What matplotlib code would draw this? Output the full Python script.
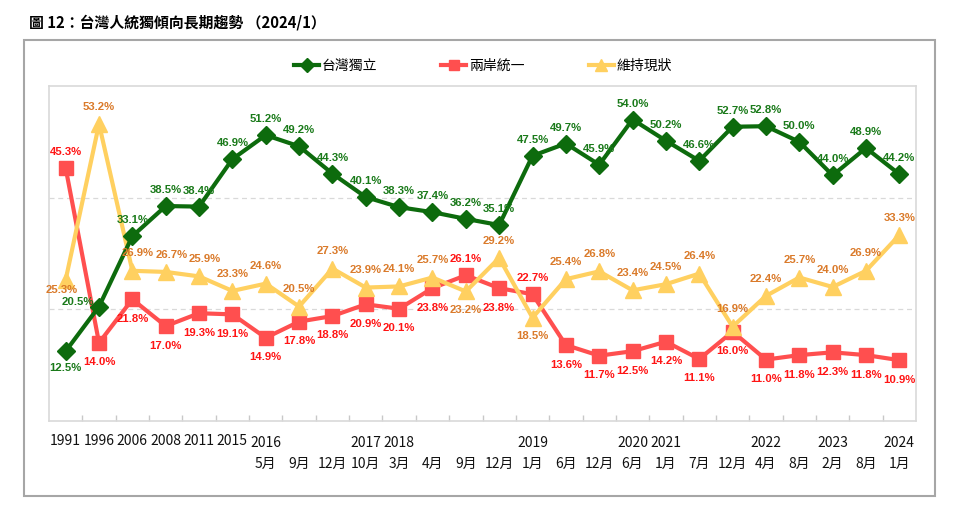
import matplotlib
matplotlib.use("Agg")
import matplotlib.pyplot as plt
from matplotlib.patches import Rectangle

# ---- data ----
years = ["1991", "1996", "2006", "2008", "2011", "2015",
         "2016", "2016", "2016", "2017", "2018", "2018", "2018", "2018",
         "2019", "2019", "2019", "2020", "2021", "2021", "2021",
         "2022", "2022", "2023", "2023", "2024"]
months = ["", "", "", "", "", "",
          "5月", "9月", "12月", "10月", "3月", "4月", "9月", "12月",
          "1月", "6月", "12月", "6月", "1月", "7月", "12月",
          "4月", "8月", "2月", "8月", "1月"]
independence = [12.5, 20.5, 33.1, 38.5, 38.4, 46.9, 51.2, 49.2, 44.3, 40.1,
                38.3, 37.4, 36.2, 35.1, 47.5, 49.7, 45.9, 54.0, 50.2, 46.6,
                52.7, 52.8, 50.0, 44.0, 48.9, 44.2]
unification = [45.3, 14.0, 21.8, 17.0, 19.3, 19.1, 14.9, 17.8, 18.8, 20.9,
               20.1, 23.8, 26.1, 23.8, 22.7, 13.6, 11.7, 12.5, 14.2, 11.1,
               16.0, 11.0, 11.8, 12.3, 11.8, 10.9]
status_quo = [25.3, 53.2, 26.9, 26.7, 25.9, 23.3, 24.6, 20.5, 27.3, 23.9,
              24.1, 25.7, 23.2, 29.2, 18.5, 25.4, 26.8, 23.4, 24.5, 26.4,
              16.9, 22.4, 25.7, 24.0, 26.9, 33.3]
series_names = ["台灣獨立", "兩岸統一", "維持現狀"]
title = "圖 12：台灣人統獨傾向長期趨勢 （2024/1）"

# label placements (style, not data)
green_pos = {0: "b", 1: "l"}
red_pos = {0: "a", 12: "a", 14: "a"}
red_default = "b"
yellow_pos = {0: "bl", 12: "b", 14: "b", 2: "ar", 3: "ar", 4: "ar"}

CJK = ["Noto Sans CJK TC", "DejaVu Sans"]
plt.rcParams["font.family"] = CJK

W, H = 960, 521
fig = plt.figure(figsize=(W / 100, H / 100), dpi=100)
ax = fig.add_axes([49 / W, 1 - 421 / H, (916 - 49) / W, (421 - 86) / H])

x = list(range(len(years)))
c_green, c_red, c_yel = "#0D6B0D", "#FF4F4F", "#FFD060"
l_green, l_red, l_yel = "#1A7A1A", "#FF1414", "#DA7A2A"

ax.plot(x, unification, color=c_red, lw=3, marker="s", ms=10, zorder=3,
        label=series_names[1])
ax.plot(x, status_quo, color=c_yel, lw=3, marker="^", ms=11, zorder=4,
        label=series_names[2])
ax.plot(x, independence, color=c_green, lw=3, marker="D", ms=9, zorder=5,
        label=series_names[0])

ax.set_xlim(-0.5, len(years) - 0.5)
ax.set_ylim(0, 60)
for s in ax.spines.values():
    s.set_color("#D9D9D9")
    s.set_linewidth(1.2)
for g in (20, 40):
    ax.axhline(g, color="#D9D9D9", lw=0.9, ls=(0, (4, 3)), zorder=1)
ax.set_yticks([])
ax.set_xticks([k + 0.5 for k in range(len(years) - 1)])
ax.set_xticklabels([])
ax.tick_params(axis="x", direction="in", length=4, color="#C8C8C8", width=1)

# x labels (two rows)
trans = ax.get_xaxis_transform()
prev = None
for i, (yy, mm) in enumerate(zip(years, months)):
    if yy != prev:
        ypx = 441 if mm == "" else 443
        ax.text(i, 1 - (ypx - 86) / (421 - 86), yy, transform=trans, ha="center",
                va="center", fontsize=10, color="#111111")
    prev = yy
    if mm:
        ax.text(i, 1 - (464 - 86) / (421 - 86), mm, transform=trans, ha="center",
                va="center", fontsize=10, color="#111111")

lab_font = dict(family=["Liberation Sans", "DejaVu Sans"], fontsize=8.2,
                fontweight="bold")


def offs(code, up=11.5, down=-13):
    return {"a": (0, up), "b": (0, down), "l": (-15, 3),
            "bl": (-3, -7.5), "ar": (4, up)}[code]


for i, v in enumerate(independence):
    dx, dy = offs(green_pos.get(i, "a"), up=11.5, down=-12)
    ax.annotate(f"{v:.1f}%", (i, v), xytext=(dx, dy), textcoords="offset points",
                ha="center", va="center", color=l_green, **lab_font, zorder=6)
for i, v in enumerate(unification):
    dx, dy = offs(red_pos.get(i, red_default), up=11.5, down=-14)
    ax.annotate(f"{v:.1f}%", (i, v), xytext=(dx, dy), textcoords="offset points",
                ha="center", va="center", color=l_red, **lab_font, zorder=6)
for i, v in enumerate(status_quo):
    dx, dy = offs(yellow_pos.get(i, "a"), up=12.5, down=-13.5)
    ax.annotate(f"{v:.1f}%", (i, v), xytext=(dx, dy), textcoords="offset points",
                ha="center", va="center", color=l_yel, **lab_font, zorder=6)

# legend
h, l = ax.get_legend_handles_labels()
order = [2, 0, 1]
fig.legend([h[k] for k in order], [l[k] for k in order], ncol=3,
           loc="center", bbox_to_anchor=(483 / W, 1 - 66 / H), frameon=False,
           fontsize=10, handlelength=1.8, handletextpad=0.2, columnspacing=4.6,
           markerscale=0.75)

# title and outer frame
fig.text(29 / W, 1 - 22 / H, title, ha="left", va="center", fontsize=10.7,
         fontweight="bold", color="#000000")
fig.patches.append(Rectangle((24 / W, 1 - 496 / H), (935 - 24) / W, (496 - 40) / H,
                             transform=fig.transFigure, fill=False,
                             edgecolor="#A6A6A6", lw=1.5))

fig.savefig("out.png", dpi=100)
